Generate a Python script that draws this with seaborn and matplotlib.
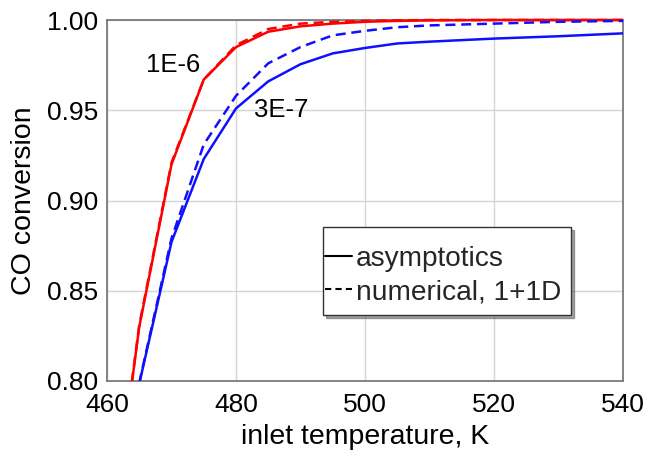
import numpy as np
import pandas as pd
import matplotlib
matplotlib.use("Agg")
import matplotlib.pyplot as plt
import seaborn as sns
from matplotlib.lines import Line2D
from matplotlib.transforms import Bbox, TransformedBbox

# ---- data ----
temperature = [460, 465, 470, 475, 480, 485, 490, 495, 500, 505, 510, 520, 530, 540]
red_asym = [0.694, 0.830, 0.920, 0.967, 0.985, 0.9935, 0.9965, 0.998, 0.999, 0.9995, 0.9998, 1.0, 1.0, 1.0]
red_num = [0.694, 0.831, 0.921, 0.967, 0.986, 0.995, 0.998, 0.999, 0.9995, 0.9998, 1.0, 1.0, 1.0, 1.0]
blue_asym = [0.720, 0.7985, 0.877, 0.923, 0.951, 0.966, 0.9755, 0.9815, 0.9845, 0.987, 0.988, 0.9897, 0.991, 0.9926]
blue_num = [0.720, 0.799, 0.879, 0.931, 0.958, 0.976, 0.985, 0.9915, 0.994, 0.996, 0.997, 0.998, 0.999, 0.9995]
curve_labels = ["1E-6", "3E-7"]
legend_labels = ["asymptotics", "numerical, 1+1D"]
x_ticks = [460, 480, 500, 520, 540]
y_ticks = [0.80, 0.85, 0.90, 0.95, 1.00]

TICK_FS = 19
LABEL_FS = 20.5
ANNOT_FS = 18.5
LEG_FS = 20.2

sns.set_theme(style="whitegrid")
plt.rcParams["font.family"] = ["Liberation Sans", "DejaVu Sans"]

fig = plt.figure(figsize=(6.5, 4.59), dpi=100)
ax = fig.add_axes([107 / 650, 1 - 381 / 459, 516 / 650, 361 / 459])

series = [
    (red_asym, "#ff0000", "-"),
    (red_num, "#ff0000", "--"),
    (blue_asym, "#1010ff", "-"),
    (blue_num, "#1010ff", "--"),
]
for vals, col, ls in series:
    df = pd.DataFrame({"T": temperature, "X": vals})
    sns.lineplot(data=df, x="T", y="X", ax=ax, color=col, linewidth=1.8,
                 linestyle=ls, zorder=3, legend=False)

for ln in ax.lines:
    if ln.get_linestyle() == "--":
        ln.set_dashes([4, 2.3])
    ln.set_clip_box(TransformedBbox(Bbox([[0, 0], [1, 1.03]]), ax.transAxes))

ax.set_xlim(460, 540)
ax.set_ylim(0.80, 1.00)
ax.set_xticks(x_ticks)
ax.set_yticks(y_ticks)
ax.set_xticklabels([str(v) for v in x_ticks])
ax.set_yticklabels([f"{v:.2f}" for v in y_ticks])
ax.tick_params(axis="y", labelsize=TICK_FS, length=0, pad=6.5, colors="black")
ax.tick_params(axis="x", labelsize=TICK_FS, length=0, pad=9, colors="black")
ax.grid(True, color="#d4d4d4", linewidth=1.0)
for s in ax.spines.values():
    s.set_color("#7a7a7a")
    s.set_linewidth(1.3)
    s.set_visible(True)

ax.set_xlabel("inlet temperature, K", fontsize=LABEL_FS, color="black", labelpad=5)
ax.set_ylabel("CO conversion", fontsize=LABEL_FS, color="black", labelpad=7)

ax.text(470.3, 0.975, curve_labels[0], fontsize=ANNOT_FS, ha="center", va="center", color="black")
ax.text(487.0, 0.950, curve_labels[1], fontsize=ANNOT_FS, ha="center", va="center", color="black")

handles = [Line2D([], [], color="black", linewidth=1.5, linestyle="-"),
           Line2D([], [], color="black", linewidth=1.5, linestyle=(0, (3, 2)))]
leg = ax.legend(handles, legend_labels, loc="upper left", bbox_to_anchor=(0.419, 0.427),
                fontsize=LEG_FS, frameon=True, fancybox=False, shadow=True,
                title=" ", title_fontsize=1,
                handlelength=0.55, handletextpad=0.25, borderpad=0.36,
                labelspacing=0.27, borderaxespad=0)
leg.get_frame().set_edgecolor("#333333")
leg.get_frame().set_linewidth(1.0)
leg.get_frame().set_alpha(1.0)
# extend legend handle lines toward the frame's left edge
hl = 0.55 * LEG_FS
for h in leg.legend_handles:
    yd = np.asarray(h.get_ydata())
    h.set_data(np.linspace(-5.8, hl + 2.5, len(yd)), yd)

fig.savefig("out.png", dpi=100)
